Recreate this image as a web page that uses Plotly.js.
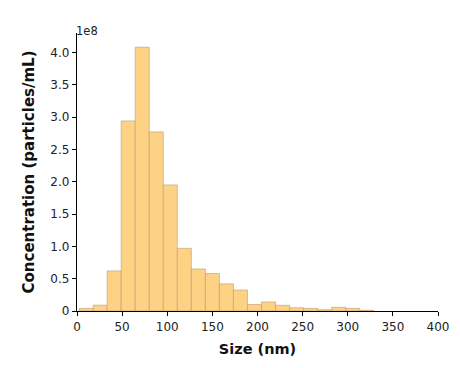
<!DOCTYPE html>
<html>
<head>
<meta charset="utf-8">
<script src="https://cdn.plot.ly/plotly-3.0.1.min.js"></script>
<style>html,body{margin:0;padding:0;background:#fff;}#chart{width:460px;height:368px;}</style>
</head>
<body>
<div id="chart"></div>
<script>
// Bin left edge (nm) and bin width
const binStart = 2.3;
const binWidth = 15.55;
// Concentration per bin (particles/mL)
const concentrations = [0.04e8, 0.09e8, 0.62e8, 2.94e8, 4.08e8, 2.77e8, 1.95e8, 0.97e8, 0.65e8, 0.58e8, 0.42e8, 0.325e8, 0.10e8, 0.14e8, 0.088e8, 0.05e8, 0.04e8, 0.02e8, 0.057e8, 0.04e8, 0.01e8];
const yTickVals = [0, 0.5e8, 1.0e8, 1.5e8, 2.0e8, 2.5e8, 3.0e8, 3.5e8, 4.0e8];
const yTickText = ["0", "0.5", "1.0", "1.5", "2.0", "2.5", "3.0", "3.5", "4.0"];
const xTickVals = [0, 50, 100, 150, 200, 250, 300, 350, 400];

const centers = concentrations.map((_, i) => binStart + binWidth * (i + 0.5));

const tickFont = "DejaVu Sans, sans-serif";
const titleFont = "DejaVu Sans, sans-serif";
const trace = {
  type: 'bar',
  x: centers,
  y: concentrations,
  width: binWidth,
  marker: {color: 'rgba(254,205,120,0.9)', line: {color: 'rgba(190,160,120,0.8)', width: 0.8}},
  hoverinfo: 'skip'
};
const layout = {
  width: 460, height: 368,
  margin: {l: 77, r: 22, t: 33, b: 57},
  paper_bgcolor: '#fff', plot_bgcolor: '#fff',
  showlegend: false,
  bargap: 0,
  font: {family: tickFont, color: '#222', size: 12},
  xaxis: {
    range: [0, 400], tickvals: xTickVals, showgrid: false, zeroline: false,
    showline: true, linecolor: '#000', linewidth: 1.2,
    ticks: 'outside', ticklen: 4, tickcolor: '#000', tickwidth: 1,
    tickfont: {family: tickFont, size: 12, color: '#222'},
    title: {text: 'Size (nm)', font: {family: titleFont, size: 14.5, color: '#111', weight: 'bold'}, standoff: 11}
  },
  yaxis: {
    range: [0, 4.3e8], tickvals: yTickVals, ticktext: yTickText, showgrid: false, zeroline: false,
    showline: true, linecolor: '#000', linewidth: 1.2,
    ticks: 'outside', ticklen: 4, tickcolor: '#000', tickwidth: 1,
    tickfont: {family: tickFont, size: 12, color: '#222'},
    title: {text: 'Concentration (particles/mL)', font: {family: titleFont, size: 15, color: '#111', weight: 'bold'}, standoff: 12}
  },
  annotations: [{
    text: '1e8', xref: 'paper', yref: 'paper', x: 0, y: 1, xanchor: 'left', yanchor: 'bottom',
    xshift: -3, yshift: -7, showarrow: false, font: {family: tickFont, size: 11.5, color: '#222'}
  }]
};
Plotly.newPlot('chart', [trace], layout, {displayModeBar: false, staticPlot: true});
</script>
</body>
</html>
